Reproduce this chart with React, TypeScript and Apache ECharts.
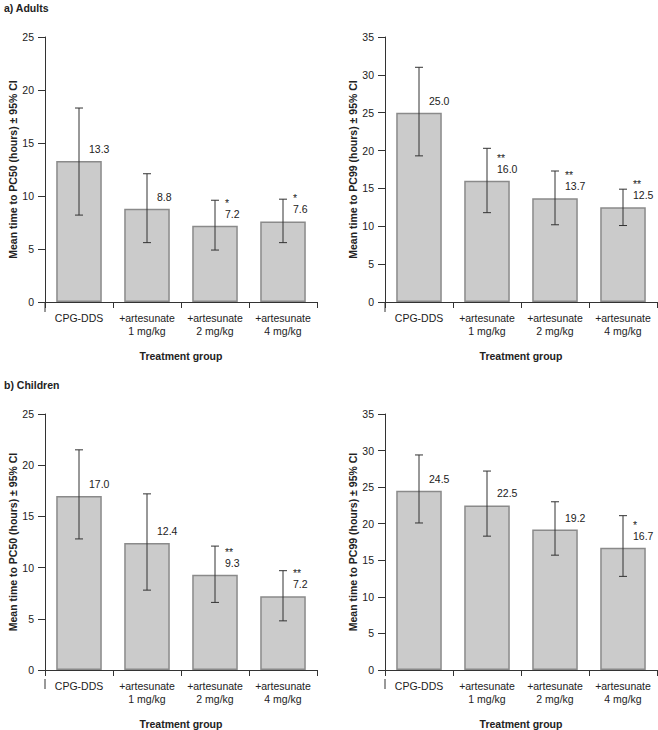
import React, { useEffect, useRef } from "react";
import * as echarts from "echarts";

const categories = ["CPG-DDS", "+artesunate\n1 mg/kg", "+artesunate\n2 mg/kg", "+artesunate\n4 mg/kg"];

const adultsPC50 = [13.3, 8.8, 7.2, 7.6];
const adultsPC50Lo = [8.2, 5.6, 4.9, 5.6];
const adultsPC50Hi = [18.3, 12.1, 9.6, 9.7];
const adultsPC50Sig = ["", "", "*", "*"];

const adultsPC99 = [25.0, 16.0, 13.7, 12.5];
const adultsPC99Lo = [19.3, 11.8, 10.2, 10.1];
const adultsPC99Hi = [31.0, 20.3, 17.3, 14.9];
const adultsPC99Sig = ["", "**", "**", "**"];

const childrenPC50 = [17.0, 12.4, 9.3, 7.2];
const childrenPC50Lo = [12.8, 7.8, 6.6, 4.8];
const childrenPC50Hi = [21.5, 17.2, 12.1, 9.7];
const childrenPC50Sig = ["", "", "**", "**"];

const childrenPC99 = [24.5, 22.5, 19.2, 16.7];
const childrenPC99Lo = [20.1, 18.3, 15.7, 12.8];
const childrenPC99Hi = [29.4, 27.2, 23.0, 21.1];
const childrenPC99Sig = ["", "", "", "*"];

const yNamePC50 = "Mean time to PC50 (hours) \u00b1 95% CI";
const yNamePC99 = "Mean time to PC99 (hours) \u00b1 95% CI";
const xName = "Treatment group";

const FONT = "Liberation Sans, Arial, Helvetica, sans-serif";
const TEXT = "#222";
const AXIS = "#333";

const panels = [
  { mean: adultsPC50, lo: adultsPC50Lo, hi: adultsPC50Hi, sig: adultsPC50Sig, max: 25, yName: yNamePC50 },
  { mean: adultsPC99, lo: adultsPC99Lo, hi: adultsPC99Hi, sig: adultsPC99Sig, max: 35, yName: yNamePC99 },
  { mean: childrenPC50, lo: childrenPC50Lo, hi: childrenPC50Hi, sig: childrenPC50Sig, max: 25, yName: yNamePC50 },
  { mean: childrenPC99, lo: childrenPC99Lo, hi: childrenPC99Hi, sig: childrenPC99Sig, max: 35, yName: yNamePC99 },
];

const grids = [
  { left: 45, top: 37, width: 272, height: 265 },
  { left: 385, top: 37, width: 272, height: 265 },
  { left: 45, top: 414, width: 272, height: 265 },
  { left: 385, top: 414, width: 272, height: 265 },
];

export default function App() {
  const ref = useRef<HTMLDivElement>(null);

  useEffect(() => {
    if (!ref.current) return;
    const chart = echarts.init(ref.current, undefined, { renderer: "svg" });

    const xAxis: any[] = [];
    const yAxis: any[] = [];
    const series: any[] = [];
    const graphic: any[] = [];

    panels.forEach((p, i) => {
      xAxis.push({
        type: "category",
        gridIndex: i,
        data: categories,
        name: xName,
        nameLocation: "middle",
        nameGap: 48,
        nameTextStyle: { fontFamily: FONT, fontSize: 10.5, fontWeight: "bold", color: TEXT },
        axisLine: { show: true, lineStyle: { color: AXIS, width: 1 } },
        axisTick: { show: true, length: 6, alignWithLabel: false, lineStyle: { color: AXIS } },
        axisLabel: {
          interval: 0,
          margin: 10,
          fontFamily: FONT,
          fontSize: 10.5,
          color: TEXT,
          lineHeight: 12.5,
        },
        splitLine: { show: false },
      });
      yAxis.push({
        type: "value",
        gridIndex: i,
        min: 0,
        max: p.max,
        interval: 5,
        name: p.yName,
        nameLocation: "middle",
        nameGap: 27,
        nameTextStyle: { fontFamily: FONT, fontSize: 10.5, fontWeight: "bold", color: TEXT },
        axisLine: { show: true, lineStyle: { color: AXIS, width: 1 } },
        axisTick: { show: true, length: 7, lineStyle: { color: AXIS } },
        axisLabel: { margin: 11, fontFamily: FONT, fontSize: 10.5, color: TEXT },
        splitLine: { show: false },
      });
      series.push({
        type: "bar",
        xAxisIndex: i,
        yAxisIndex: i,
        data: p.mean,
        barWidth: "67%",
        itemStyle: { color: "#cbcbcb", borderColor: "#8a8a8a", borderWidth: 1.5 },
        z: 2,
      });
      const sig = p.sig;
      series.push({
        type: "custom",
        xAxisIndex: i,
        yAxisIndex: i,
        clip: false,
        z: 5,
        data: p.mean.map((m, k) => [k, m, p.lo[k], p.hi[k]]),
        renderItem: (params: any, api: any) => {
          const x = api.value(0);
          const mean = api.value(1);
          const pHi = api.coord([x, api.value(3)]);
          const pLo = api.coord([x, api.value(2)]);
          const pTop = api.coord([x, mean]);
          const cx = pHi[0];
          const cap = 4;
          const ls = { stroke: "#333", lineWidth: 1 };
          const children: any[] = [
            { type: "line", shape: { x1: cx, y1: pHi[1], x2: cx, y2: pLo[1] }, style: ls },
            { type: "line", shape: { x1: cx - cap, y1: pHi[1], x2: cx + cap, y2: pHi[1] }, style: ls },
            { type: "line", shape: { x1: cx - cap, y1: pLo[1], x2: cx + cap, y2: pLo[1] }, style: ls },
            {
              type: "text",
              x: cx + 10,
              y: pTop[1] - 12,
              style: {
                text: Number(mean).toFixed(1),
                fontFamily: FONT,
                fontSize: 10.5,
                fill: TEXT,
                align: "left",
                verticalAlign: "middle",
              },
            },
          ];
          const s = sig[params.dataIndex];
          if (s) {
            children.push({
              type: "text",
              x: cx + 10,
              y: pTop[1] - 23,
              style: {
                text: s,
                fontFamily: FONT,
                fontSize: 10.5,
                fill: TEXT,
                align: "left",
                verticalAlign: "middle",
              },
            });
          }
          return { type: "group", children };
        },
      });

      const g = grids[i];
      graphic.push({
        type: "line",
        shape: { x1: g.left, y1: g.top + g.height, x2: g.left, y2: g.top + g.height + 10 },
        style: { stroke: AXIS, lineWidth: 1 },
      });
    });

    graphic.push({
      type: "text",
      left: 4,
      top: 2,
      style: { text: "a) Adults", fontFamily: FONT, fontSize: 10.5, fontWeight: "bold", fill: TEXT },
    });
    graphic.push({
      type: "text",
      left: 4,
      top: 379,
      style: { text: "b) Children", fontFamily: FONT, fontSize: 10.5, fontWeight: "bold", fill: TEXT },
    });

    chart.setOption({
      animation: false,
      backgroundColor: "#ffffff",
      grid: grids.map((g) => ({ ...g, containLabel: false })),
      xAxis,
      yAxis,
      series,
      graphic,
    });

    return () => {
      chart.dispose();
    };
  }, []);

  return (
    <div
      ref={ref}
      style={{ position: "fixed", left: 0, top: 0, width: 658, height: 730, background: "#fff" }}
    />
  );
}
